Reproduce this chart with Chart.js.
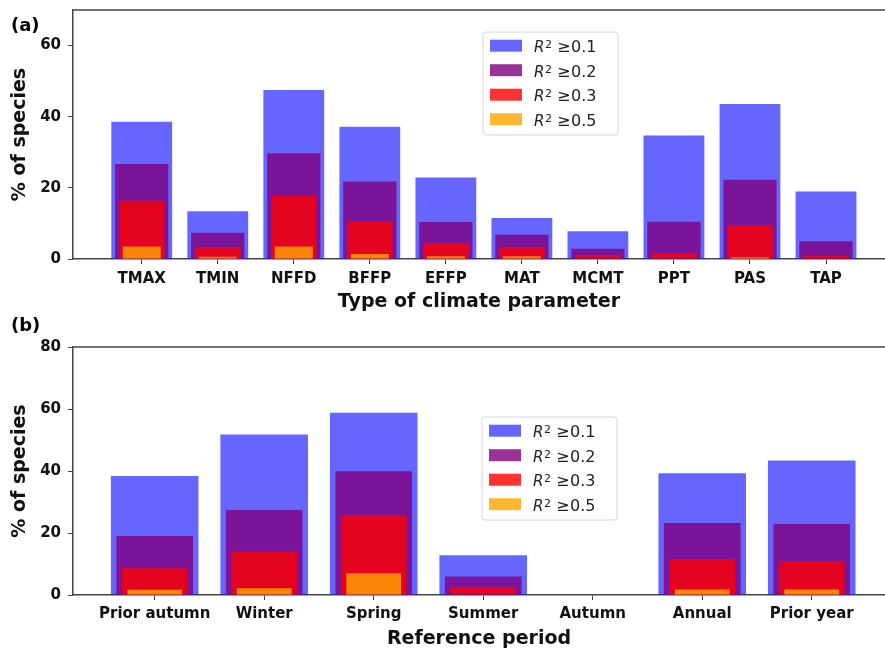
<!DOCTYPE html>
<html><head><meta charset="utf-8">
<script src="https://cdn.jsdelivr.net/npm/chart.js@4"></script>
<style>
html,body{margin:0;padding:0;background:#fff;}
#wrap{position:relative;width:885px;height:652px;overflow:hidden;}
.pan{position:absolute;left:0;width:885px;}
#pa{top:0;height:325px;}
#pb{top:300px;height:352px;}
</style></head><body>
<div id="wrap">
<div class="pan" id="pa"><canvas id="ca"></canvas></div>
<div class="pan" id="pb"><canvas id="cb"></canvas></div>
</div>
<script>
// ---- data ----
const climateParams = ['TMAX','TMIN','NFFD','BFFP','EFFP','MAT','MCMT','PPT','PAS','TAP'];
const climR01 = [38.6,13.4,47.5,37.2,22.9,11.5,7.8,34.7,43.6,19.0];
const climR02 = [26.7,7.4,29.7,21.8,10.4,6.8,2.9,10.5,22.3,5.0];
const climR03 = [16.4,3.4,17.8,10.7,4.5,3.4,1.1,1.7,9.4,0.85];
const climR05 = [3.5,0.6,3.5,1.4,0.75,0.75,0,0,0.5,0];

const periods = ['Prior autumn','Winter','Spring','Summer','Autumn','Annual','Prior year'];
const perR01 = [38.4,51.8,58.8,12.8,0,39.3,43.4];
const perR02 = [19.0,27.4,39.9,6.0,0,23.2,22.9];
const perR03 = [8.6,14.0,25.8,2.6,0,11.6,11.0];
const perR05 = [1.7,2.2,7.0,0,0,1.8,1.8];

const yTicksA = [0,20,40,60];
const yTicksB = [0,20,40,60,80];
const thresholds = ['0.1','0.2','0.3','0.5'];

// ---- styles ----
const COLORS = ['rgba(0,0,255,0.6)','rgba(128,0,128,0.8)','rgba(255,0,0,0.8)','rgba(255,165,0,0.8)'];
const BARPCT = [0.8,0.7,0.6,0.5];
const FONT = 'DejaVu Sans';
const AXC = '#444';

function pts(arr){ return arr.map((v,i)=>({x:i,y:v})); }
function makeDatasets(series){
  return series.map((s,k)=>({
    label: 'R2 >= ' + thresholds[k],
    data: pts(s),
    backgroundColor: COLORS[k],
    borderWidth: 0,
    grouped: false,
    categoryPercentage: 1,
    barPercentage: BARPCT[k],
    order: 4 - k
  }));
}

const decor = {
  id: 'decor',
  afterDraw(chart, args, o){
    const {ctx, chartArea:a} = chart;
    ctx.save();
    ctx.strokeStyle = AXC; ctx.lineWidth = 1.5;
    ctx.beginPath(); ctx.moveTo(a.left, a.top); ctx.lineTo(a.right, a.top); ctx.stroke();
    // panel label
    ctx.fillStyle = '#000'; ctx.textAlign = 'left'; ctx.textBaseline = 'alphabetic';
    ctx.font = 'bold 18px "' + FONT + '"';
    ctx.fillText(o.label, o.labelX, o.labelY);
    // legend
    const lx = a.left + o.legLeft, ly = a.top + o.legTop, lw = 135, lh = 103, r = 3;
    ctx.beginPath();
    ctx.moveTo(lx + r, ly); ctx.lineTo(lx + lw - r, ly); ctx.arcTo(lx + lw, ly, lx + lw, ly + r, r);
    ctx.lineTo(lx + lw, ly + lh - r); ctx.arcTo(lx + lw, ly + lh, lx + lw - r, ly + lh, r);
    ctx.lineTo(lx + r, ly + lh); ctx.arcTo(lx, ly + lh, lx, ly + lh - r, r);
    ctx.lineTo(lx, ly + r); ctx.arcTo(lx, ly, lx + r, ly, r); ctx.closePath();
    ctx.fillStyle = 'rgba(255,255,255,0.8)'; ctx.fill();
    ctx.strokeStyle = '#d6d6d6'; ctx.lineWidth = 1; ctx.stroke();
    chart.data.datasets.forEach((ds, i) => {
      const cy = ly + 13.7 + i * 24.5;
      ctx.fillStyle = ds.backgroundColor;
      ctx.fillRect(lx + 7, cy - 6, 32, 12);
      const by = cy + 6.6;
      ctx.fillStyle = '#222';
      ctx.font = 'italic 15px "' + FONT + '"';
      ctx.fillText('R', lx + 51, by);
      ctx.font = '11px "' + FONT + '"';
      ctx.fillText('2', lx + 62, by - 4);
      ctx.font = '16px "' + FONT + '"';
      ctx.fillText('\u2265', lx + 74, by);
      ctx.fillText(thresholds[i], lx + 88, by);
    });
    ctx.restore();
  }
};

function makeChart(id, cats, series, cfg){
  return new Chart(document.getElementById(id), {
    type: 'bar',
    data: { datasets: makeDatasets(series) },
    plugins: [decor],
    options: {
      responsive: true, maintainAspectRatio: false, animation: false,
      layout: { padding: { top: cfg.padTop, left: 0, right: 0, bottom: 0 } },
      plugins: { legend: { display: false }, tooltip: { enabled: false }, decor: cfg.decor },
      scales: {
        x: {
          type: 'linear', min: cfg.xmin, max: cfg.xmax, offset: false,
          afterBuildTicks: s => { s.ticks = cats.map((_, i) => ({ value: i })); },
          afterFit: s => { s.height = cfg.xh; s.paddingLeft = 0; s.paddingRight = 0; },
          ticks: { autoSkip: false, maxRotation: 0, padding: cfg.xpad, color: '#111',
            font: { family: FONT, size: 15, weight: 'bold' }, callback: v => cats[v] },
          grid: { offset: false, drawOnChartArea: false, drawTicks: true, tickLength: 5, color: AXC, lineWidth: 1 },
          border: { display: true, color: AXC, width: 1.5 },
          title: { display: true, text: cfg.xtitle, color: '#111',
            font: { family: FONT, size: 19, weight: 'bold' }, padding: { top: 0, bottom: cfg.xtpad } }
        },
        y: {
          min: 0, max: cfg.ymax,
          afterBuildTicks: s => { s.ticks = cfg.yticks.map(v => ({ value: v })); },
          afterFit: s => { s.width = 73; s.paddingTop = 0; s.paddingBottom = 0; },
          ticks: { padding: 7, color: '#111', font: { family: FONT, size: 15, weight: 'bold' } },
          grid: { drawOnChartArea: false, drawTicks: true, tickLength: 5, color: AXC, lineWidth: 1 },
          border: { display: true, color: AXC, width: 1.5 },
          title: { display: true, text: '% of species', color: '#111',
            font: { family: FONT, size: 19, weight: 'bold' }, padding: { top: 9, bottom: 0 } }
        }
      }
    }
  });
}

makeChart('ca', climateParams, [climR01, climR02, climR03, climR05], {
  padTop: 10, xmin: -0.904, xmax: 9.776, xh: 66, xpad: 6, xtpad: 12,
  xtitle: 'Type of climate parameter', ymax: 70, yticks: yTicksA,
  decor: { label: '(a)', labelX: 11, labelY: 31, legLeft: 410, legTop: 22 }
});
makeChart('cb', periods, [perR01, perR02, perR03, perR05], {
  padTop: 47, xmin: -0.746, xmax: 6.669, xh: 57, xpad: 5, xtpad: 2,
  xtitle: 'Reference period', ymax: 80, yticks: yTicksB,
  decor: { label: '(b)', labelX: 11, labelY: 31, legLeft: 409, legTop: 70 }
});
</script>
</body></html>
